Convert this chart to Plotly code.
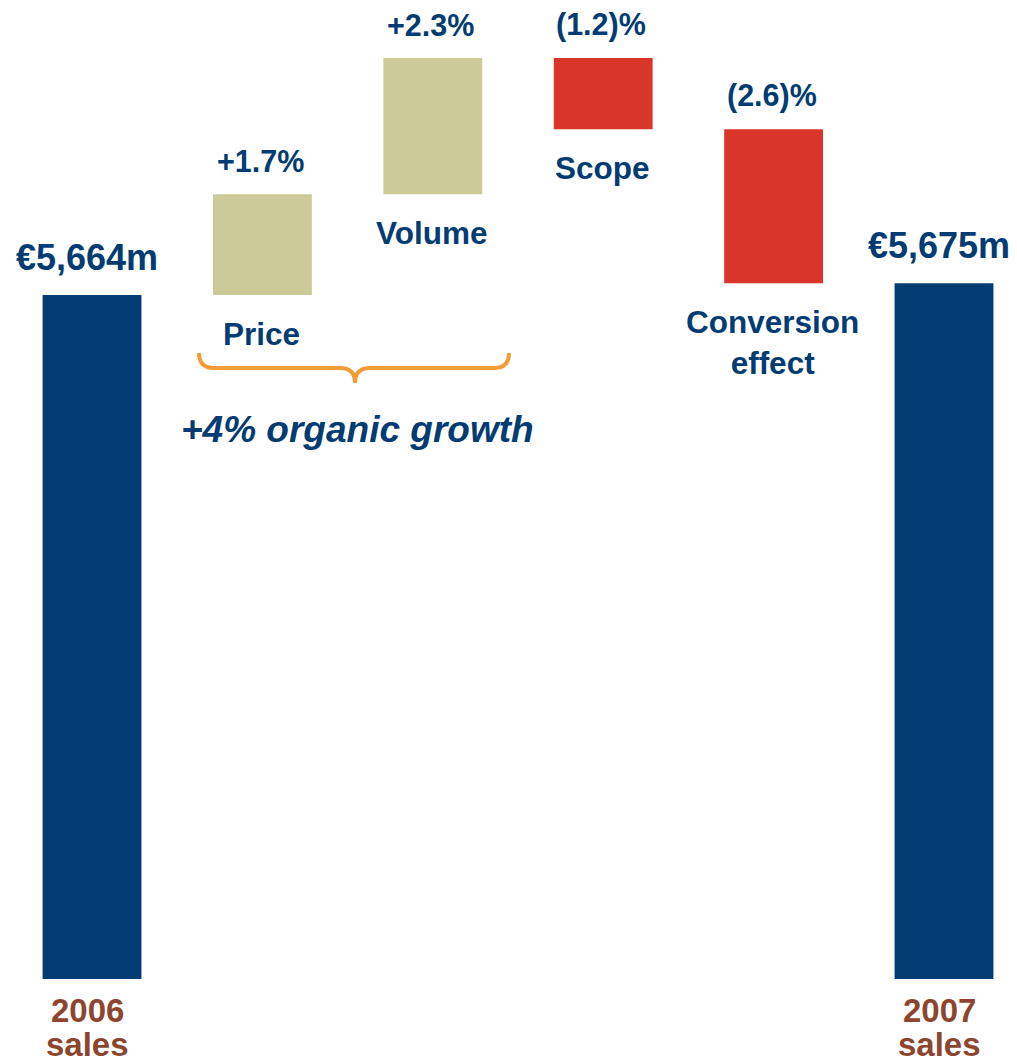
import plotly.graph_objects as go

# ---- data ----
categories = ["2006 sales", "Price", "Volume", "Scope", "Conversion effect", "2007 sales"]
start_sales = 5664          # €m, 2006
end_sales = 5675            # €m, 2007
pct_changes = [1.7, 2.3, -1.2, -2.6]   # % of 2006 sales
pct_labels = ["+1.7%", "+2.3%", "(1.2)%", "(2.6)%"]
name_labels = ["Price", "Volume", "Scope", "Conversion<br>effect"]
total_labels = ["€5,664m", "€5,675m"]
bottom_labels = ["2006", "2007"]
organic_label = "+4% organic growth"

NAVY = "#023C72"
KHAKI = "#CBCA98"
RED = "#D9352A"
BROWN = "#8C4630"
ORANGE = "#F59C38"
FONT = "Liberation Sans, Arial, sans-serif"

OFF = 8                      # page body margin
W, H = 1017 - OFF, 1064 - OFF
PLOT_H = 979 - OFF
M_B = H - PLOT_H

deltas = [start_sales * p / 100 for p in pct_changes]
x_idx = list(range(len(categories)))

fig = go.Figure(go.Waterfall(
    x=x_idx,
    y=[start_sales] + deltas + [0],
    measure=["absolute"] + ["relative"] * len(deltas) + ["total"],
    width=0.58,
    increasing=dict(marker=dict(color=KHAKI)),
    decreasing=dict(marker=dict(color=RED)),
    totals=dict(marker=dict(color=NAVY)),
    connector=dict(visible=False),
    hoverinfo="skip",
))

# cumulative levels
levels = [start_sales]
for d in deltas:
    levels.append(levels[-1] + d)

annotations = []
# totals labels
for i, (xi, lvl, xs) in enumerate([(0, start_sales, -5), (5, levels[-1], -5)]):
    annotations.append(dict(x=xi, y=lvl, xref="x", yref="y", text=f"<b>{total_labels[i]}</b>",
                            showarrow=False, yanchor="bottom", yshift=15, xshift=xs,
                            font=dict(family=FONT, size=36, color=NAVY)))
    annotations.append(dict(x=xi, y=0, xref="x", yref="paper", text=f"<b>{bottom_labels[i]}</b>",
                            showarrow=False, yanchor="top", yshift=-11, xshift=xs,
                            font=dict(family=FONT, size=33, color=BROWN)))
    annotations.append(dict(x=xi, y=0, xref="x", yref="paper", text="<b>sales</b>",
                            showarrow=False, yanchor="top", yshift=-45, xshift=xs,
                            font=dict(family=FONT, size=33, color=BROWN)))

# delta labels
for k in range(len(deltas)):
    xi = k + 1
    top = max(levels[k], levels[k + 1])
    bot = min(levels[k], levels[k + 1])
    annotations.append(dict(x=xi, y=top, xref="x", yref="y", text=f"<b>{pct_labels[k]}</b>",
                            showarrow=False, yanchor="bottom", yshift=14, xshift=-2,
                            font=dict(family=FONT, size=30.5, color=NAVY)))
    annotations.append(dict(x=xi, y=bot, xref="x", yref="y", text=f"<b>{name_labels[k]}</b>",
                            showarrow=False, yanchor="top", yshift=-19, xshift=-1,
                            font=dict(family=FONT, size=31.5, color=NAVY)))


# page-pixel -> paper helpers (for decorations only)
def px_x(p):
    return (p - OFF) / W


def px_y(p):
    return 1 - (p - OFF) / PLOT_H


annotations.append(dict(x=px_x(357), y=px_y(452), xref="paper", yref="paper",
                        text=f"<b><i>{organic_label}</i></b>", showarrow=False,
                        xanchor="center", yanchor="bottom",
                        font=dict(family=FONT, size=37, color=NAVY)))

# brace under Price and Volume
xl, xr, xc = 199, 509, 355
yt, ym, yb = 353, 368, 383
r = 15
pts = [
    f"M {px_x(xl)},{px_y(yt)}",
    f"Q {px_x(xl)},{px_y(ym)} {px_x(xl + r)},{px_y(ym)}",
    f"L {px_x(xc - r)},{px_y(ym)}",
    f"Q {px_x(xc)},{px_y(ym)} {px_x(xc)},{px_y(yb)}",
    f"Q {px_x(xc)},{px_y(ym)} {px_x(xc + r)},{px_y(ym)}",
    f"L {px_x(xr - r)},{px_y(ym)}",
    f"Q {px_x(xr)},{px_y(ym)} {px_x(xr)},{px_y(yt)}",
]
shapes = [dict(type="path", xref="paper", yref="paper", path=" ".join(pts),
               line=dict(color=ORANGE, width=4))]

# axis ranges (scale chosen so the base sits near the bottom of the view)
m_per_px = 0.9563
y_low = start_sales - 684 * m_per_px
y_high = y_low + PLOT_H * m_per_px
spacing = 170.4
x_low = -(92 - OFF) / spacing

fig.update_layout(
    width=W, height=H,
    margin=dict(l=0, r=0, t=0, b=M_B),
    paper_bgcolor="white", plot_bgcolor="white",
    showlegend=False,
    xaxis=dict(range=[x_low, x_low + W / spacing], visible=False, fixedrange=True),
    yaxis=dict(range=[y_low, y_high], visible=False, fixedrange=True),
    annotations=annotations,
    shapes=shapes,
)

fig.write_html("out.html")
